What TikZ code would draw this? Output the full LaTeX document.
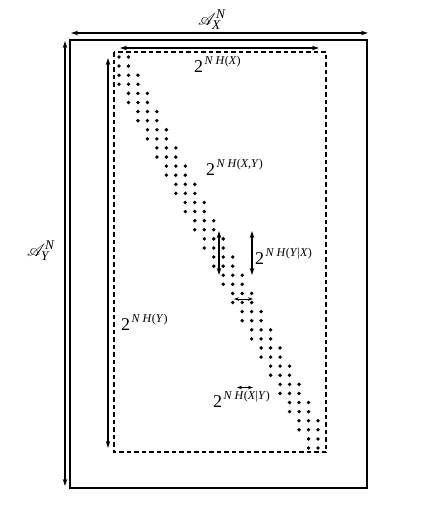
\documentclass[tikz,border=0pt]{standalone}
\usepackage{mathrsfs}
\usepackage{fontspec}
\setmainfont{Liberation Serif}
\usetikzlibrary{arrows.meta}
\newcommand{\twopow}[1]{{\fontsize{18}{18}\selectfont 2}\kern1.5pt\raisebox{8pt}{\fontsize{12}{12}\selectfont #1}}
\begin{document}
\begin{tikzpicture}[x=1pt,y=-1pt,
  dimarrow/.style={line width=1.2pt,{Stealth[length=7pt,width=4.5pt]}-{Stealth[length=7pt,width=4.5pt]}},
  smallarrow/.style={line width=1pt,{Stealth[length=5pt,width=3.5pt]}-{Stealth[length=5pt,width=3.5pt]}},
  outerbox/.style={line width=1.4pt},
  dashbox/.style={line width=1.2pt,dash pattern=on 4.5pt off 3pt},
  lab/.style={inner sep=0pt,anchor=base west},
  typdot/.style={fill=black}]
\useasboundingbox (0,0) rectangle (433,507);
% boxes
\draw[outerbox] (70,40) rectangle (367,488);
\draw[dashbox] (114,52) rectangle (326,452);
% coordinates for arrows
\coordinate (ax1) at (71,33);
\coordinate (ax2) at (368,33);
\coordinate (ay1) at (65,41);
\coordinate (ay2) at (65,486);
\coordinate (hx1) at (120,48);
\coordinate (hx2) at (319,48);
\coordinate (hy1) at (108,58);
\coordinate (hy2) at (108,448);
\coordinate (v1a) at (219,231);
\coordinate (v1b) at (219,275);
\coordinate (v2a) at (252,231);
\coordinate (v2b) at (252,275);
\coordinate (h1a) at (234,299);
\coordinate (h1b) at (253,299);
\coordinate (h2a) at (237,387.5);
\coordinate (h2b) at (253,387.5);
\draw[dimarrow] (ax1) -- (ax2);
\draw[dimarrow] (ay1) -- (ay2);
\draw[dimarrow] (hx1) -- (hx2);
\draw[dimarrow] (hy1) -- (hy2);
\draw[dimarrow] (v1a) -- (v1b);
\draw[dimarrow] (v2a) -- (v2b);
\draw[smallarrow] (h1a) -- (h1b);
\draw[smallarrow] (h2a) -- (h2b);
% dots
\foreach \i in {0,...,43}{
  \pgfmathtruncatemacro{\k}{floor(\i/2)}
  \foreach \d in {-1,0,1}{
    \pgfmathtruncatemacro{\c}{\k+\d}
    \ifnum\c<0 \else\ifnum\c>21 \else
      \fill[typdot] (119+9.476*\c, 57+9.093*\i) circle[radius=1.9pt];
    \fi\fi
  }
}
% labels
\node[lab] (lax) at (198,25) {\fontsize{19}{19}\selectfont$\mathscr{A}_{\mathit{X}}^{\mathit{N}}$};
\node[lab] (lay) at (27,256) {\fontsize{19}{19}\selectfont$\mathscr{A}_{\mathit{Y}}^{\mathit{N}}$};
\node[lab] (lhx) at (194,72) {\twopow{\textit{N H}(\textit{X})}};
\node[lab] (lhxy) at (206,175) {\twopow{\textit{N H}(\textit{X},\textit{Y})}};
\node[lab] (lhyx) at (255,264.5) {\twopow{\textit{N H}(\textit{Y}|\textit{X})}};
\node[lab] (lhy) at (121,330) {\twopow{\textit{N H}(\textit{Y})}};
\node[lab] (lhxgy) at (213,407) {\twopow{\textit{N H}(\textit{X}|\textit{Y})}};
\end{tikzpicture}
\end{document}
